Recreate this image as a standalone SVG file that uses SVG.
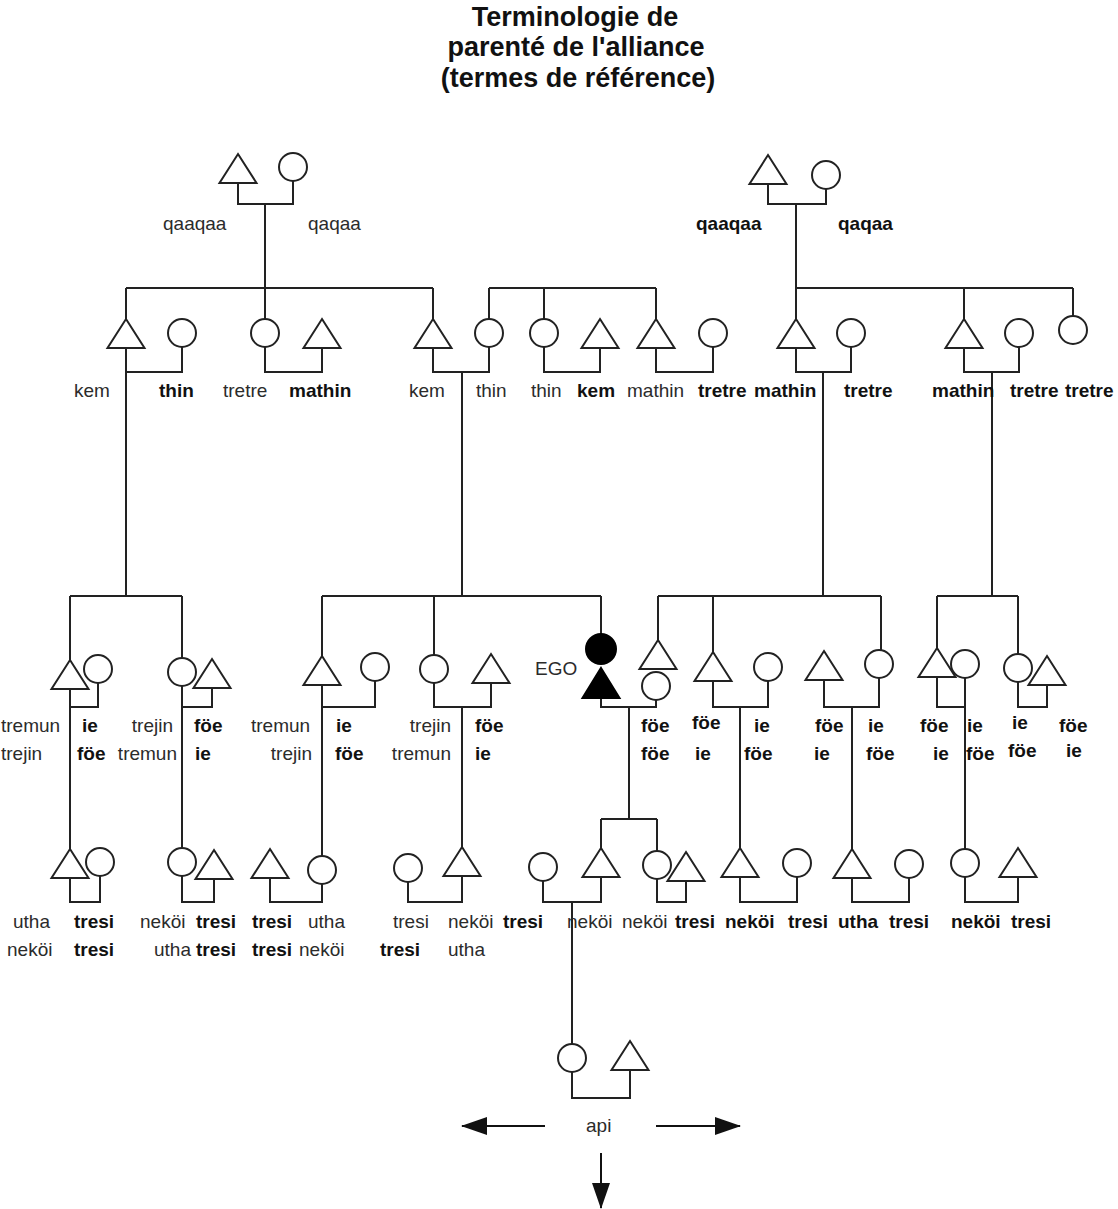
<svg xmlns="http://www.w3.org/2000/svg" xmlns:xlink="http://www.w3.org/1999/xlink" width="1118" height="1209" viewBox="0 0 1118 1209">
  <style>
    .bg { fill: #ffffff; }
    .m { fill: none; stroke: #222; stroke-width: 2; }
    .f { fill: none; stroke: #222; stroke-width: 2; }
    .ego { fill: #000; stroke: #000; stroke-width: 2; }
    .ln { fill: none; stroke: #222; stroke-width: 2; }
    .ar { fill: none; stroke: #111; stroke-width: 2; }
    .title { font-family: "Liberation Sans", Arial, Helvetica, sans-serif; font-size: 27px; font-weight: bold; fill: #111; text-anchor: middle; }
    .t { font-family: "Liberation Sans", Arial, Helvetica, sans-serif; font-size: 19px; fill: #2b2b2b; }
    .b { font-weight: bold; fill: #111; }
    .e { text-anchor: end; }
  </style>
  <defs>
    <!-- male symbol, origin at apex -->
    <path id="tri" d="M0,0 L18.5,29 L-18.5,29 Z"/>
    <marker id="head" markerUnits="userSpaceOnUse" markerWidth="26" markerHeight="18" refX="25" refY="9" orient="auto">
      <path d="M0,0 L26,9 L0,18 Z" fill="#111"/>
    </marker>
  </defs>
  <rect class="bg" x="0" y="0" width="1118" height="1209"/>

  <g id="title">
    <text class="title" x="575" y="26">Terminologie de</text>
    <text class="title" x="576" y="56">parenté de l'alliance</text>
    <text class="title" x="578" y="87">(termes de référence)</text>
  </g>

  <!-- lines of descent and marriage -->
  <g id="connectors" class="ln">
    <!-- left grandparents -->
    <path d="M238,183 V204 H293 V181"/>
    <path d="M265,204 V319"/>
    <path d="M126,288 H433 M126,288 V319 M433,288 V319"/>
    <!-- generation 2, left half -->
    <path d="M126,348 V596 M126,372 H182 V347"/>
    <path d="M265,347 V372 H322 V348"/>
    <path d="M433,348 V372 H489 V347 M462,372 V596"/>
    <path d="M489,288 H656 M489,288 V319 M544,288 V319 M656,288 V319"/>
    <path d="M544,347 V372 H600 V348"/>
    <path d="M656,348 V372 H713 V347"/>
    <!-- right grandparents -->
    <path d="M768,184 V204 H826 V189"/>
    <path d="M796,204 V319"/>
    <path d="M796,288 H1073 M964,288 V319 M1073,288 V316"/>
    <path d="M796,348 V372 H851 V347 M823,372 V596"/>
    <path d="M964,348 V372 H1019 V347 M992,372 V596"/>
    <!-- generation 3 -->
    <path d="M70,596 H182 M70,596 V660 M182,596 V658"/>
    <path d="M70,689 V849 M70,707 H98 V683"/>
    <path d="M182,686 V848 M182,707 H212 V688"/>
    <path d="M322,596 H601 M322,596 V656 M434,596 V655 M601,596 V634"/>
    <path d="M322,685 V856 M322,707 H375 V681"/>
    <path d="M434,683 V707 H491 V683 M462,707 V847"/>
    <path d="M601,698 V707 H656 V700 M629,707 V819"/>
    <path d="M658,596 H881 M658,596 V640 M713,596 V652 M881,596 V650"/>
    <path d="M713,681 V707 H768 V681 M740,707 V848"/>
    <path d="M824,680 V707 H879 V678 M852,707 V849"/>
    <path d="M937,596 H1018 M937,596 V648 M1018,596 V654"/>
    <path d="M937,677 V707 H965 M965,678 V849"/>
    <path d="M1018,682 V707 H1047 V685"/>
    <!-- generation 4 -->
    <path d="M70,878 V902 H100 V876"/>
    <path d="M182,876 V902 H214 V879"/>
    <path d="M270,878 V902 H322 V884"/>
    <path d="M408,882 V902 H462 V876"/>
    <path d="M601,819 H657 M601,819 V848 M657,819 V851"/>
    <path d="M543,881 V902 H601 V877 M572,902 V1044"/>
    <path d="M657,879 V902 H686 V881"/>
    <path d="M740,877 V902 H797 V877"/>
    <path d="M852,878 V902 H909 V878"/>
    <path d="M965,877 V902 H1018 V877"/>
    <!-- generation 5 -->
    <path d="M572,1072 V1098 H630 V1070"/>
    <!-- continuation arrows -->
    <path class="ar" d="M545,1126 H462" marker-end="url(#head)"/>
    <path class="ar" d="M656,1126 H740" marker-end="url(#head)"/>
    <path class="ar" d="M601,1153 V1208" marker-end="url(#head)"/>
  </g>

  <!-- generation 1 -->
  <g id="gf-left"><use href="#tri" class="m" x="238" y="154"/></g>
  <g id="gm-left"><circle class="f" cx="293" cy="167" r="14"/></g>
  <g id="gf-right"><use href="#tri" class="m" x="768" y="155"/></g>
  <g id="gm-right"><circle class="f" cx="826" cy="175" r="14"/></g>

  <!-- generation 2 -->
  <g id="p2-kem-a"><use href="#tri" class="m" x="126" y="319"/></g>
  <g id="p2-thin-a"><circle class="f" cx="182" cy="333" r="14"/></g>
  <g id="p2-tretre-a"><circle class="f" cx="265" cy="333" r="14"/></g>
  <g id="p2-mathin-a"><use href="#tri" class="m" x="322" y="319"/></g>
  <g id="p2-kem-b"><use href="#tri" class="m" x="433" y="319"/></g>
  <g id="p2-thin-b"><circle class="f" cx="489" cy="333" r="14"/></g>
  <g id="p2-thin-c"><circle class="f" cx="544" cy="333" r="14"/></g>
  <g id="p2-kem-c"><use href="#tri" class="m" x="600" y="319"/></g>
  <g id="p2-mathin-b"><use href="#tri" class="m" x="656" y="319"/></g>
  <g id="p2-tretre-b"><circle class="f" cx="713" cy="333" r="14"/></g>
  <g id="p2-mathin-c"><use href="#tri" class="m" x="796" y="319"/></g>
  <g id="p2-tretre-c"><circle class="f" cx="851" cy="333" r="14"/></g>
  <g id="p2-mathin-d"><use href="#tri" class="m" x="964" y="319"/></g>
  <g id="p2-tretre-d"><circle class="f" cx="1019" cy="333" r="14"/></g>
  <g id="p2-tretre-e"><circle class="f" cx="1073" cy="330" r="14"/></g>

  <!-- generation 3 -->
  <g id="p3-a-m"><use href="#tri" class="m" x="70" y="660"/></g>
  <g id="p3-a-f"><circle class="f" cx="98" cy="669" r="14"/></g>
  <g id="p3-b-f"><circle class="f" cx="182" cy="672" r="14"/></g>
  <g id="p3-b-m"><use href="#tri" class="m" x="212" y="659"/></g>
  <g id="p3-c-m"><use href="#tri" class="m" x="322" y="656"/></g>
  <g id="p3-c-f"><circle class="f" cx="375" cy="667" r="14"/></g>
  <g id="p3-d-f"><circle class="f" cx="434" cy="669" r="14"/></g>
  <g id="p3-d-m"><use href="#tri" class="m" x="491" y="654"/></g>
  <g id="ego">
    <circle class="ego" cx="601" cy="649" r="15"/>
    <path class="ego" d="M601,668 L619.5,698 L582.5,698 Z"/>
    <text class="t" x="535" y="675">EGO</text>
  </g>
  <g id="p3-ego-m"><use href="#tri" class="m" x="658" y="640"/></g>
  <g id="p3-ego-f"><circle class="f" cx="656" cy="686" r="14"/></g>
  <g id="p3-e-m"><use href="#tri" class="m" x="713" y="652"/></g>
  <g id="p3-e-f"><circle class="f" cx="768" cy="667" r="14"/></g>
  <g id="p3-g-m"><use href="#tri" class="m" x="824" y="651"/></g>
  <g id="p3-g-f"><circle class="f" cx="879" cy="664" r="14"/></g>
  <g id="p3-h-m"><use href="#tri" class="m" x="937" y="648"/></g>
  <g id="p3-h-f"><circle class="f" cx="965" cy="664" r="14"/></g>
  <g id="p3-i-f"><circle class="f" cx="1018" cy="668" r="14"/></g>
  <g id="p3-i-m"><use href="#tri" class="m" x="1047" y="656"/></g>

  <!-- generation 4 -->
  <g id="p4-a-m"><use href="#tri" class="m" x="70" y="849"/></g>
  <g id="p4-a-f"><circle class="f" cx="100" cy="862" r="14"/></g>
  <g id="p4-b-f"><circle class="f" cx="182" cy="862" r="14"/></g>
  <g id="p4-b-m"><use href="#tri" class="m" x="214" y="850"/></g>
  <g id="p4-c-m"><use href="#tri" class="m" x="270" y="849"/></g>
  <g id="p4-c-f"><circle class="f" cx="322" cy="870" r="14"/></g>
  <g id="p4-d-f"><circle class="f" cx="408" cy="868" r="14"/></g>
  <g id="p4-d-m"><use href="#tri" class="m" x="462" y="847"/></g>
  <g id="p4-e-f"><circle class="f" cx="543" cy="867" r="14"/></g>
  <g id="p4-e-m"><use href="#tri" class="m" x="601" y="848"/></g>
  <g id="p4-f-f"><circle class="f" cx="657" cy="865" r="14"/></g>
  <g id="p4-f-m"><use href="#tri" class="m" x="686" y="852"/></g>
  <g id="p4-g-m"><use href="#tri" class="m" x="740" y="848"/></g>
  <g id="p4-g-f"><circle class="f" cx="797" cy="863" r="14"/></g>
  <g id="p4-h-m"><use href="#tri" class="m" x="852" y="849"/></g>
  <g id="p4-h-f"><circle class="f" cx="909" cy="864" r="14"/></g>
  <g id="p4-i-f"><circle class="f" cx="965" cy="863" r="14"/></g>
  <g id="p4-i-m"><use href="#tri" class="m" x="1018" y="848"/></g>

  <!-- generation 5 -->
  <g id="p5-f"><circle class="f" cx="572" cy="1058" r="14"/></g>
  <g id="p5-m"><use href="#tri" class="m" x="630" y="1041"/></g>

  <!-- reference terms -->
  <g id="terms" class="t">
    <text x="163" y="230">qaaqaa</text>
    <text x="308" y="230">qaqaa</text>
    <text class="b" x="696" y="230">qaaqaa</text>
    <text class="b" x="838" y="230">qaqaa</text>

    <text x="74" y="397">kem</text>
    <text class="b" x="159" y="397">thin</text>
    <text x="223" y="397">tretre</text>
    <text class="b" x="289" y="397">mathin</text>
    <text x="409" y="397">kem</text>
    <text x="476" y="397">thin</text>
    <text x="531" y="397">thin</text>
    <text class="b" x="577" y="397">kem</text>
    <text x="627" y="397">mathin</text>
    <text class="b" x="698" y="397">tretre</text>
    <text class="b" x="754" y="397">mathin</text>
    <text class="b" x="844" y="397">tretre</text>
    <text class="b" x="932" y="397">mathin</text>
    <text class="b" x="1010" y="397">tretre</text>
    <text class="b" x="1065" y="397">tretre</text>

    <text x="1" y="732">tremun</text>
    <text x="1" y="760">trejin</text>
    <text class="b" x="82" y="732">ie</text>
    <text class="b" x="77" y="760">föe</text>
    <text class="e" x="173" y="732">trejin</text>
    <text class="e" x="177" y="760">tremun</text>
    <text class="b" x="194" y="732">föe</text>
    <text class="b" x="195" y="760">ie</text>
    <text x="251" y="732">tremun</text>
    <text class="e" x="312" y="760">trejin</text>
    <text class="b" x="336" y="732">ie</text>
    <text class="b" x="335" y="760">föe</text>
    <text class="e" x="451" y="732">trejin</text>
    <text class="e" x="451" y="760">tremun</text>
    <text class="b" x="475" y="732">föe</text>
    <text class="b" x="475" y="760">ie</text>
    <text class="b" x="641" y="732">föe</text>
    <text class="b" x="641" y="760">föe</text>
    <text class="b" x="692" y="729">föe</text>
    <text class="b" x="695" y="760">ie</text>
    <text class="b" x="754" y="732">ie</text>
    <text class="b" x="744" y="760">föe</text>
    <text class="b" x="815" y="732">föe</text>
    <text class="b" x="814" y="760">ie</text>
    <text class="b" x="868" y="732">ie</text>
    <text class="b" x="866" y="760">föe</text>
    <text class="b" x="920" y="732">föe</text>
    <text class="b" x="933" y="760">ie</text>
    <text class="b" x="967" y="732">ie</text>
    <text class="b" x="966" y="760">föe</text>
    <text class="b" x="1012" y="729">ie</text>
    <text class="b" x="1008" y="757">föe</text>
    <text class="b" x="1059" y="732">föe</text>
    <text class="b" x="1066" y="757">ie</text>

    <text x="13" y="928">utha</text>
    <text x="7" y="956">neköi</text>
    <text class="b" x="74" y="928">tresi</text>
    <text class="b" x="74" y="956">tresi</text>
    <text x="140" y="928">neköi</text>
    <text x="154" y="956">utha</text>
    <text class="b" x="196" y="928">tresi</text>
    <text class="b" x="196" y="956">tresi</text>
    <text class="b" x="252" y="928">tresi</text>
    <text class="b" x="252" y="956">tresi</text>
    <text x="308" y="928">utha</text>
    <text x="299" y="956">neköi</text>
    <text x="393" y="928">tresi</text>
    <text class="b" x="380" y="956">tresi</text>
    <text x="448" y="928">neköi</text>
    <text x="448" y="956">utha</text>
    <text class="b" x="503" y="928">tresi</text>
    <text x="567" y="928">neköi</text>
    <text x="622" y="928">neköi</text>
    <text class="b" x="675" y="928">tresi</text>
    <text class="b" x="725" y="928">neköi</text>
    <text class="b" x="788" y="928">tresi</text>
    <text class="b" x="838" y="928">utha</text>
    <text class="b" x="889" y="928">tresi</text>
    <text class="b" x="951" y="928">neköi</text>
    <text class="b" x="1011" y="928">tresi</text>

    <text x="586" y="1132">api</text>
  </g>
</svg>
